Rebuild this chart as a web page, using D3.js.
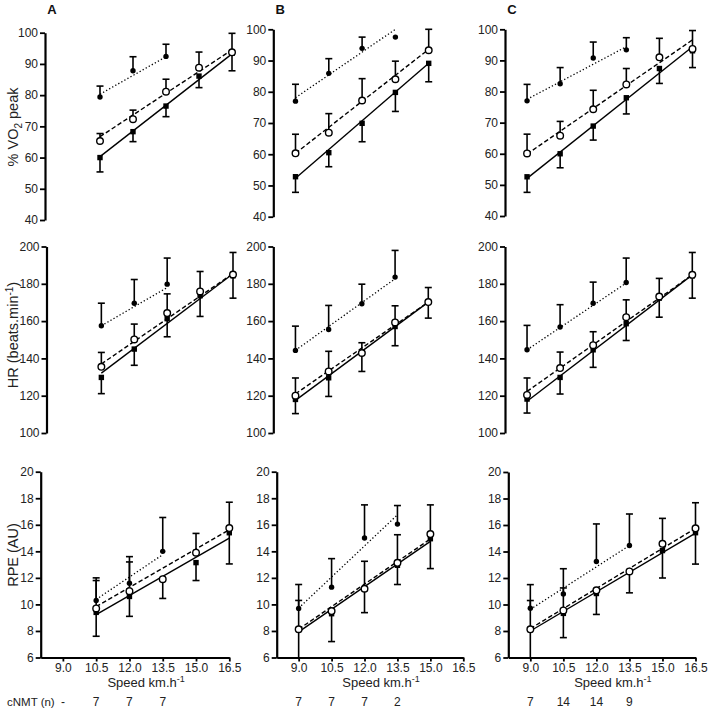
<!DOCTYPE html>
<html><head><meta charset="utf-8">
<script src="https://cdn.jsdelivr.net/npm/d3@7"></script>
<style>body{margin:0;background:#fff}svg{display:block}</style>
</head><body>
<script>
// ---------- DATA ----------
const speeds = [9.0, 10.5, 12.0, 13.5, 15.0, 16.5];
const speedTicks = [9.0, 10.5, 12.0, 13.5, 15.0, 16.5];
const vo2Ticks = [40, 50, 60, 70, 80, 90, 100];
const hrTicks = [100, 120, 140, 160, 180, 200];
const rpeTicks = [6, 8, 10, 12, 14, 16, 18, 20];
const columnLetters = ["A", "B", "C"];
const cnmtLabel = "cNMT (n)";
const cnmtA = ["-", "7", "7", "7", "", ""];
const cnmtB = ["7", "7", "7", "2", "", ""];
const cnmtC = ["7", "14", "14", "9", "", ""];

// %VO2peak  (filled circle = dot, open circle = open, filled square = sq); SD: circles up, squares down
const vo2A_dot = [null, 79.4, 87.8, 92.4, null, null];
const vo2A_dotSD = [null, 3.5, 4.5, 3.9, null, null];
const vo2A_open = [null, 65.3, 72.3, 81.1, 88.8, 93.7];
const vo2A_openSD = [null, 2.4, 2.9, 4.0, 5.0, 6.1];
const vo2A_sq = [null, 60.0, 68.3, 76.5, 86.1, 93.4];
const vo2A_sqSD = [null, 4.6, 3.2, 3.4, 3.7, 5.6];
const vo2A_fit = {dot: [80.3, 92.3], open: [66.7, 94.5], sq: [60.3, 93.2]};

const vo2B_dot = [77.0, 85.9, 93.9, 97.5, null, null];
const vo2B_dotSD = [5.4, 4.7, 3.6, null, null, null];
const vo2B_open = [60.3, 66.9, 77.2, 84.0, 93.3, null];
const vo2B_openSD = [6.1, 6.1, 7.0, 5.8, 6.8, null];
const vo2B_sq = [52.8, 60.5, 69.9, 79.8, 89.1, null];
const vo2B_sqSD = [5.0, 4.5, 5.9, 6.1, 5.9, null];
const vo2B_fit = {dot: [78.1, 100.0], open: [60.3, 93.6], sq: [52.3, 89.1]};

const vo2C_dot = [77.0, 82.5, 90.8, 93.4, null, null];
const vo2C_dotSD = [5.3, 5.2, 5.1, 3.9, null, null];
const vo2C_open = [60.1, 65.8, 74.3, 82.3, 91.0, 93.7];
const vo2C_openSD = [6.2, 4.6, 6.1, 5.1, 6.1, 5.9];
const vo2C_sq = [52.6, 60.0, 68.9, 78.0, 87.4, 93.1];
const vo2C_sqSD = [5.0, 4.5, 4.5, 5.2, 4.8, 5.4];
const vo2C_fit = {dot: [77.5, 94.4], open: [59.9, 96.6], sq: [52.1, 94.4]};

// HR
const hrA_dot = [null, 157.5, 169.6, 179.8, null, null];
const hrA_dotSD = [null, 12.1, 12.7, 14.0, null, null];
const hrA_open = [null, 135.5, 150.2, 164.3, 175.9, 185.0];
const hrA_openSD = [null, 7.7, 8.2, 10.3, 10.7, 11.8];
const hrA_sq = [null, 129.8, 145.0, 161.3, 173.6, 184.3];
const hrA_sqSD = [null, 8.7, 8.7, 9.7, 11.1, 12.0];
const hrA_fit = {dot: [157.5, 178.0], open: [137.0, 185.5], sq: [132.1, 185.4]};

const hrB_dot = [144.3, 155.5, 169.3, 183.6, null, null];
const hrB_dotSD = [13.0, 12.9, 10.5, 14.3, null, null];
const hrB_open = [120.0, 133.0, 142.9, 159.3, 170.2, null];
const hrB_openSD = [9.5, 10.8, 5.5, 8.9, 7.8, null];
const hrB_sq = [118.0, 129.6, 142.9, 157.1, 170.2, null];
const hrB_sqSD = [7.6, 10.0, 9.9, 10.3, 8.6, null];
const hrB_fit = {dot: [144.3, 182.7], open: [121.0, 170.2], sq: [117.5, 170.2]};

const hrC_dot = [144.6, 156.8, 169.6, 180.7, null, null];
const hrC_dotSD = [13.1, 12.0, 11.3, 13.1, null, null];
const hrC_open = [120.4, 134.8, 147.1, 162.1, 173.2, 184.8];
const hrC_openSD = [9.1, 8.6, 7.2, 9.3, 9.7, 12.0];
const hrC_sq = [118.2, 129.8, 144.6, 158.6, 172.3, 184.3];
const hrC_sqSD = [7.5, 8.9, 9.4, 9.0, 10.2, 12.0];
const hrC_fit = {dot: [144.6, 180.4], open: [122.3, 184.8], sq: [117.0, 184.8]};

// RPE
const rpeA_dot = [null, 10.3, 11.6, 14.0, null, null];
const rpeA_dotSD = [null, 1.7, 2.0, 2.55, null, null];
const rpeA_open = [null, 9.7, 11.0, 11.9, 13.9, 15.75];
const rpeA_openSD = [null, 2.1, 2.2, null, 1.45, 1.95];
const rpeA_sq = [null, 9.4, 10.6, 11.9, 13.15, 15.4];
const rpeA_sqSD = [null, 1.8, 1.5, 1.45, 1.35, 2.35];
const rpeA_fit = {dot: [10.38, 13.75], open: [9.83, 15.63], sq: [9.23, 15.0]};

const rpeB_dot = [9.7, 11.3, 15.0, 16.05, null, null];
const rpeB_dotSD = [1.8, 2.15, 2.5, 1.4, null, null];
const rpeB_open = [8.13, 9.5, 11.18, 13.13, 15.3, null];
const rpeB_openSD = [2.17, null, 2.07, 2.12, 2.2, null];
const rpeB_sq = [8.1, 9.3, 11.15, 12.95, 14.95, null];
const rpeB_sqSD = [2.2, 2.1, 1.77, 1.45, 2.25, null];
const rpeB_fit = {dot: [9.72, 16.75], open: [8.13, 14.93], sq: [7.93, 14.75]};

const rpeC_dot = [9.72, 10.8, 13.25, 14.45, null, null];
const rpeC_dotSD = [1.78, 1.9, 2.83, 2.38, null, null];
const rpeC_open = [8.13, 9.55, 11.07, 12.5, 14.58, 15.75];
const rpeC_openSD = [2.17, 1.7, null, null, 1.92, 1.93];
const rpeC_sq = [8.1, 9.33, 10.83, 12.5, 14.07, 15.42];
const rpeC_sqSD = [2.2, 1.83, 1.58, 1.62, 2.07, 2.37];
const rpeC_fit = {dot: [9.63, 14.45], open: [8.18, 15.75], sq: [8.0, 15.38]};

// ---------- DRAWING ----------
const W = 708, H = 711;
const FONT = "Arial, 'Liberation Sans', Helvetica, sans-serif";
const svg = d3.select("body").append("svg").attr("width", W).attr("height", H)
  .style("font-family", FONT);

function series(vals, sd, fit, kind, dir) { return {vals, sd, fit, kind, dir}; }

const panels = [
  // top row
  {ax: 45, x165: 232, yt: 32.7, yb: 220, dom: [40, 100], ticks: vo2Ticks,
   s: [series(vo2A_sq, vo2A_sqSD, vo2A_fit.sq, "sq", -1), series(vo2A_open, vo2A_openSD, vo2A_fit.open, "open", 1), series(vo2A_dot, vo2A_dotSD, vo2A_fit.dot, "dot", 1)]},
  {ax: 273.3, x165: 462, yt: 29.3, yb: 216.7, dom: [40, 100], ticks: vo2Ticks,
   s: [series(vo2B_sq, vo2B_sqSD, vo2B_fit.sq, "sq", -1), series(vo2B_open, vo2B_openSD, vo2B_fit.open, "open", 1), series(vo2B_dot, vo2B_dotSD, vo2B_fit.dot, "dot", 1)]},
  {ax: 505, x165: 692.5, yt: 29.3, yb: 216, dom: [40, 100], ticks: vo2Ticks,
   s: [series(vo2C_sq, vo2C_sqSD, vo2C_fit.sq, "sq", -1), series(vo2C_open, vo2C_openSD, vo2C_fit.open, "open", 1), series(vo2C_dot, vo2C_dotSD, vo2C_fit.dot, "dot", 1)]},
  // middle row
  {ax: 46.5, x165: 233, yt: 246.5, yb: 433, dom: [100, 200], ticks: hrTicks,
   s: [series(hrA_sq, hrA_sqSD, hrA_fit.sq, "sq", -1), series(hrA_open, hrA_openSD, hrA_fit.open, "open", 1), series(hrA_dot, hrA_dotSD, hrA_fit.dot, "dot", 1)]},
  {ax: 273.3, x165: 461.5, yt: 246.5, yb: 433, dom: [100, 200], ticks: hrTicks,
   s: [series(hrB_sq, hrB_sqSD, hrB_fit.sq, "sq", -1), series(hrB_open, hrB_openSD, hrB_fit.open, "open", 1), series(hrB_dot, hrB_dotSD, hrB_fit.dot, "dot", 1)]},
  {ax: 505, x165: 692.3, yt: 246.5, yb: 433, dom: [100, 200], ticks: hrTicks,
   s: [series(hrC_sq, hrC_sqSD, hrC_fit.sq, "sq", -1), series(hrC_open, hrC_openSD, hrC_fit.open, "open", 1), series(hrC_dot, hrC_dotSD, hrC_fit.dot, "dot", 1)]},
  // bottom row
  {ax: 40.7, x165: 229.3, yt: 471.7, yb: 657.5, dom: [6, 20], ticks: rpeTicks, xaxis: true, counts: cnmtA,
   s: [series(rpeA_sq, rpeA_sqSD, rpeA_fit.sq, "sq", -1), series(rpeA_open, rpeA_openSD, rpeA_fit.open, "open", 1), series(rpeA_dot, rpeA_dotSD, rpeA_fit.dot, "dot", 1)]},
  {ax: 276.7, x165: 463.3, yt: 471.7, yb: 657.5, dom: [6, 20], ticks: rpeTicks, xaxis: true, counts: cnmtB,
   s: [series(rpeB_sq, rpeB_sqSD, rpeB_fit.sq, "sq", -1), series(rpeB_open, rpeB_openSD, rpeB_fit.open, "open", 1), series(rpeB_dot, rpeB_dotSD, rpeB_fit.dot, "dot", 1)]},
  {ax: 508.3, x165: 695.5, yt: 472, yb: 657.5, dom: [6, 20], ticks: rpeTicks, xaxis: true, counts: cnmtC,
   s: [series(rpeC_sq, rpeC_sqSD, rpeC_fit.sq, "sq", -1), series(rpeC_open, rpeC_openSD, rpeC_fit.open, "open", 1), series(rpeC_dot, rpeC_dotSD, rpeC_fit.dot, "dot", 1)]},
];

const lineStyle = {
  dot: {dash: "1.3,2.2", w: 1.3},
  open: {dash: "4.5,2.5", w: 1.4},
  sq: {dash: null, w: 1.4}
};

panels.forEach((p, pi) => {
  const x = d3.scaleLinear().domain([8, 16.5]).range([p.ax, p.x165]);
  const y = d3.scaleLinear().domain(p.dom).range([p.yb, p.yt]).clamp(true);
  const g = svg.append("g");

  // y axis
  const ya = g.append("g").attr("transform", `translate(${p.ax},0)`)
    .call(d3.axisLeft(y).tickValues(p.ticks).tickSize(5).tickSizeOuter(0).tickPadding(2));
  ya.select(".domain").attr("stroke", "#000").attr("stroke-width", 2.2);
  ya.selectAll(".tick line").attr("stroke", "#000").attr("stroke-width", 1.8);
  ya.selectAll(".tick text").attr("fill", "#222").style("font-size", "12px").style("font-family", FONT);

  if (p.xaxis) {
    const xa = g.append("g").attr("transform", `translate(0,${p.yb})`)
      .call(d3.axisBottom(x).tickValues(speedTicks).tickFormat(d3.format(".1f")).tickSize(4).tickSizeOuter(0).tickPadding(1.5));
    xa.select(".domain").attr("stroke", "#000").attr("stroke-width", 2.2);
    xa.selectAll(".tick line").attr("stroke", "#000").attr("stroke-width", 1.8);
    xa.selectAll(".tick text").attr("fill", "#222").style("font-size", "12px").style("font-family", FONT);

    const xt = g.append("text").attr("x", x(12.75)).attr("y", 686.5).attr("text-anchor", "middle")
      .attr("fill", "#222").style("font-size", "13px");
    xt.append("tspan").text("Speed km.h");
    xt.append("tspan").attr("dy", -5).style("font-size", "9px").text("-1");

    g.selectAll(".cnt").data(p.counts).enter().append("text")
      .attr("x", (d, i) => x(speeds[i])).attr("y", 706).attr("text-anchor", "middle")
      .attr("fill", "#222").style("font-size", "12px").text(d => d);
  }

  // fit lines
  p.s.forEach(s => {
    const idx = s.vals.map((v, i) => v == null ? -1 : i).filter(i => i >= 0);
    const x0 = speeds[idx[0]], x1 = speeds[idx[idx.length - 1]];
    const ls = lineStyle[s.kind];
    g.append("line")
      .attr("x1", x(x0)).attr("y1", y(s.fit[0])).attr("x2", x(x1)).attr("y2", y(s.fit[1]))
      .attr("stroke", "#000").attr("stroke-width", ls.w)
      .attr("stroke-dasharray", ls.dash);
  });

  // error bars
  p.s.forEach(s => {
    s.vals.forEach((v, i) => {
      if (v == null || s.sd[i] == null) return;
      const e = v + s.dir * s.sd[i];
      const cx = x(speeds[i]);
      g.append("line").attr("x1", cx).attr("x2", cx).attr("y1", y(v)).attr("y2", y(e))
        .attr("stroke", "#000").attr("stroke-width", 1.6);
      if (e >= p.dom[0]) {
        g.append("line").attr("x1", cx - 3.5).attr("x2", cx + 3.5).attr("y1", y(e)).attr("y2", y(e))
          .attr("stroke", "#000").attr("stroke-width", 1.6);
      }
    });
  });

  // markers
  p.s.forEach(s => {
    s.vals.forEach((v, i) => {
      if (v == null) return;
      const cx = x(speeds[i]), cy = y(v);
      if (s.kind === "sq") {
        g.append("rect").attr("x", cx - 2.7).attr("y", cy - 2.7).attr("width", 5.4).attr("height", 5.4).attr("fill", "#000");
      } else if (s.kind === "open") {
        g.append("circle").attr("cx", cx).attr("cy", cy).attr("r", 3.3).attr("fill", "#fff")
          .attr("stroke", "#000").attr("stroke-width", 1.4);
      } else {
        g.append("circle").attr("cx", cx).attr("cy", cy).attr("r", 2.7).attr("fill", "#000");
      }
    });
  });

  // column letter
  if (pi < 3) {
    g.append("text").attr("x", p.ax + 7).attr("y", 14).attr("text-anchor", "middle")
      .style("font-weight", "bold").style("font-size", "13px").attr("fill", "#111").text(columnLetters[pi]);
  }
});

// y axis titles
function yTitle(cy, build) {
  const t = svg.append("text").attr("transform", `translate(18,${cy}) rotate(-90)`)
    .attr("text-anchor", "middle").attr("fill", "#222").style("font-size", "14.5px");
  build(t);
}
yTitle(127, t => {
  t.append("tspan").text("% VO");
  t.append("tspan").attr("dy", 4).style("font-size", "10px").text("2");
  t.append("tspan").attr("dy", -4).text(" peak");
});
yTitle(335, t => {
  t.append("tspan").text("HR (beats.min");
  t.append("tspan").attr("dy", -5).style("font-size", "10px").text("-1");
  t.append("tspan").attr("dy", 5).text(")");
});
yTitle(555, t => { t.text("RPE (AU)"); });

svg.append("text").attr("x", 7).attr("y", 706).attr("fill", "#222").style("font-size", "11.5px").text(cnmtLabel);
</script>
</body></html>
